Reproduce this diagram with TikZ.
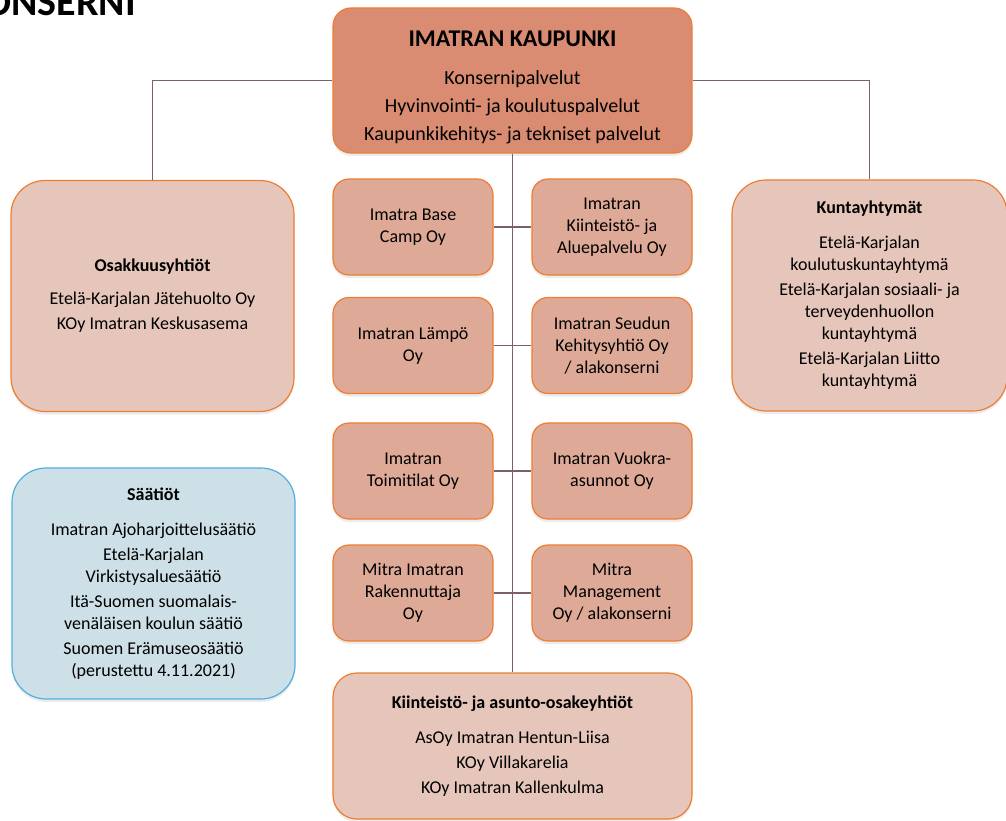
\documentclass[tikz,border=0pt]{standalone}
\usepackage{fontspec}
\setmainfont{Carlito}
\usetikzlibrary{shadows}
\definecolor{cityfill}{RGB}{217,140,114}
\definecolor{compfill}{RGB}{222,170,151}
\definecolor{groupfill}{RGB}{230,198,186}
\definecolor{boxline}{RGB}{237,125,49}
\definecolor{foundfill}{RGB}{205,224,231}
\definecolor{foundline}{RGB}{80,175,222}
\definecolor{linkcol}{RGB}{125,94,110}
\begin{document}
\begin{tikzpicture}[x=1pt,y=-1pt,
	box/.style={draw=boxline,line width=1.2pt,align=center,inner sep=0pt,
		font=\fontsize{18}{22}\selectfont,
		drop shadow={shadow xshift=0pt,shadow yshift=-3pt,opacity=0.15}},
	citybox/.style={box,fill=cityfill,rounded corners=18pt,minimum width=359pt,minimum height=145pt,
		font=\fontsize{20}{24}\selectfont},
	compbox/.style={box,fill=compfill,rounded corners=16pt,minimum width=160pt,minimum height=96pt},
	groupbox/.style={box,fill=groupfill,rounded corners=34pt,minimum height=231pt},
	foundbox/.style={groupbox,fill=foundfill,draw=foundline},
	link/.style={draw=linkcol,line width=1.4pt}]
	    \useasboundingbox (0,0) rectangle (1006,821);
	    \node[anchor=base west,inner sep=0pt,font=\fontsize{40}{40}\selectfont\bfseries] (title) at (-36,16) {KONSERNI};
	    \node[citybox] (city) at (512.5,80.5) {{\fontsize{24}{24}\selectfont\bfseries IMATRAN KAUPUNKI}\\[14pt]Konsernipalvelut\\[4pt]Hyvinvointi- ja koulutuspalvelut\\[4pt]Kaupunkikehitys- ja tekniset palvelut\\[-34pt]};
	    \node[groupbox,minimum width=283pt] (osak) at (152.5,296) {\textbf{Osakkuusyhtiöt}\\[11pt]Etelä-Karjalan Jätehuolto Oy\\[3pt]KOy Imatran Keskusasema};
	    \node[groupbox,minimum width=275pt] (kunta) at (869.5,295.5) {\textbf{Kuntayhtymät}\\[13pt]Etelä-Karjalan\\koulutuskuntayhtymä\\[3pt]Etelä-Karjalan sosiaali- ja\\terveydenhuollon\\kuntayhtymä\\[3pt]Etelä-Karjalan Liitto\\kuntayhtymä};
	    \node[foundbox,minimum width=283pt] (saat) at (153.5,583.5) {\textbf{Säätiöt}\\[13pt]Imatran Ajoharjoittelusäätiö\\[3pt]Etelä-Karjalan\\Virkistysaluesäätiö\\[3pt]Itä-Suomen suomalais-\\venäläisen koulun säätiö\\[3pt]Suomen Erämuseosäätiö\\(perustettu 4.11.2021)};
	    \node[compbox] (m1) at (413,227) {Imatra Base\\Camp Oy};
	    \node[compbox] (m2) at (612,227) {Imatran\\Kiinteistö- ja\\Aluepalvelu Oy};
	    \node[compbox] (m3) at (413,345.5) {Imatran Lämpö\\Oy};
	    \node[compbox] (m4) at (612,345.5) {Imatran Seudun\\Kehitysyhtiö Oy\\/ alakonserni};
	    \node[compbox] (m5) at (413,471) {Imatran\\Toimitilat Oy};
	    \node[compbox] (m6) at (612,471) {Imatran Vuokra-\\asunnot Oy};
	    \node[compbox] (m7) at (413,593) {Mitra Imatran\\Rakennuttaja\\Oy};
	    \node[compbox] (m8) at (612,593) {Mitra\\Management\\Oy / alakonserni};
	    \node[groupbox,rounded corners=24pt,minimum width=359pt,minimum height=146pt] (kiint) at (512.5,746) {\textbf{Kiinteistö- ja asunto-osakeyhtiöt}\\[13pt]AsOy Imatran Hentun-Liisa\\[3pt]KOy Villakarelia\\[3pt]KOy Imatran Kallenkulma};
	    \draw[link] (city.west) -| (osak.north);
	    \draw[link] (city.east) -| (kunta.north);
	    \draw[link] (city.south) -- (kiint.north);
	    \draw[link] (m1.east) -- (m2.west);
	    \draw[link] (m3.east) -- (m4.west);
	    \draw[link] (m5.east) -- (m6.west);
	    \draw[link] (m7.east) -- (m8.west);
        \end{tikzpicture}
\end{document}
